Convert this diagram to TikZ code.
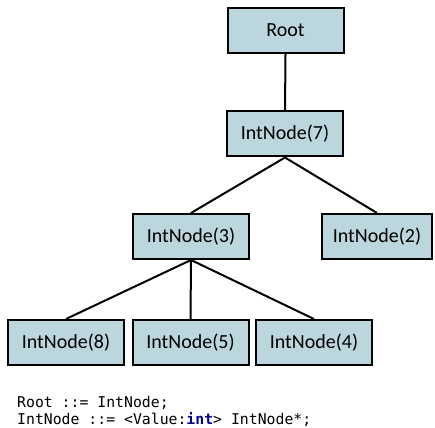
\documentclass[tikz,border=0pt]{standalone}
\usepackage{fontspec}
\setmainfont{Carlito}
\newfontfamily\codefont{DejaVu Sans Mono}
\definecolor{boxfill}{RGB}{188,214,222}
\definecolor{kwblue}{RGB}{0,0,145}
\begin{document}
\begin{tikzpicture}[x=1pt,y=-1pt,
  tnode/.style={draw=black, line width=2pt, fill=boxfill, minimum width=116pt, minimum height=45pt, inner sep=0pt, font=\fontsize{20}{24}\selectfont},
  edge/.style={line width=2pt},
  code/.style={anchor=base west, inner sep=0pt, font=\codefont\fontsize{14.8}{17}\selectfont}]
\useasboundingbox (0,0) rectangle (435,427);
\node[tnode] (root) at (285.5,30.5) {Root};
\node[tnode] (n7) at (285,134) {IntNode(7)};
\node[tnode] (n3) at (191,236.5) {IntNode(3)};
\node[tnode, minimum width=110pt] (n2) at (377,236.5) {IntNode(2)};
\node[tnode] (n8) at (66,342.5) {IntNode(8)};
\node[tnode] (n5) at (190.5,342.5) {IntNode(5)};
\node[tnode] (n4) at (314,342.5) {IntNode(4)};
\draw[edge] (root.south) -- (n7.north);
\draw[edge] (n7.south) -- (n3.north);
\draw[edge] (n7.south) -- (n2.north);
\draw[edge] (n3.south) -- (n8.north);
\draw[edge] (n3.south) -- (n5.north);
\draw[edge] (n3.south) -- (n4.north);
\node[code] (c1) at (17,407.5) {Root ::= IntNode;};
\node[code] (c2) at (17,424.5) {IntNode ::= <Value:\textcolor{kwblue}{\textbf{int}}> IntNode*;};
\end{tikzpicture}
\end{document}
